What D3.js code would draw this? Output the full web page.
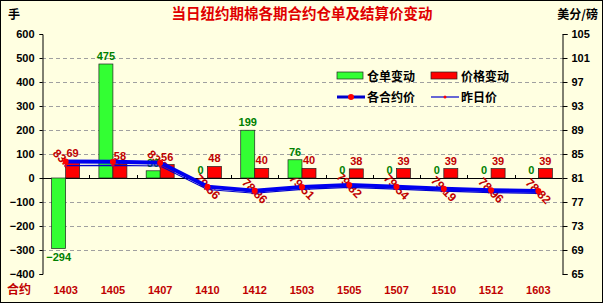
<!DOCTYPE html>
<html>
<head>
<meta charset="utf-8">
<script src="https://cdn.jsdelivr.net/npm/d3@7"></script>
<style>
  body { margin: 0; background: #fff; }
  svg { display: block; }
  text { font-family: "Liberation Sans", "Noto Sans CJK SC", sans-serif; }
</style>
</head>
<body>
<script>
var contracts = ["1403","1405","1407","1410","1412","1503","1505","1507","1510","1512","1603"];
var warrantChange = [-294, 475, 30, 0, 199, 76, 0, 0, 0, 0, 0];
var priceChange = [69, 58, 56, 48, 40, 40, 38, 39, 39, 39, 39];
var settlePrice = [83.74, 83.70, 83.56, 79.56, 78.86, 79.51, 79.82, 79.54, 79.19, 78.96, 78.82];
var leftTicks = [600, 500, 400, 300, 200, 100, 0, -100, -200, -300, -400];
var rightTicks = [105, 101, 97, 93, 89, 85, 81, 77, 73, 69, 65];

var width = 603, height = 303;
var margin = {left: 42, right: 41, top: 34, bottom: 29};
var cjk = '"Noto Sans CJK SC", sans-serif';

var svg = d3.select("body").append("svg").attr("width", width).attr("height", height);
svg.append("rect").attr("x", 0.5).attr("y", 0.5).attr("width", width - 1).attr("height", height - 1)
    .attr("fill", "#ffffe1").attr("stroke", "#000");

var x = d3.scaleBand().domain(contracts).range([margin.left, width - margin.right]);
var y = d3.scaleLinear().domain([-400, 600]).range([height - margin.bottom, margin.top]);
var y2 = d3.scaleLinear().domain([65, 105]).range([height - margin.bottom, margin.top]);

var data = contracts.map(function(c, i){
    return {c: c, w: warrantChange[i], p: priceChange[i], s: settlePrice[i], prev: +(settlePrice[i] - priceChange[i] / 100).toFixed(2)};
});

// grid
svg.append("g").selectAll("line").data(leftTicks.filter(function(d){ return d != 0 && d != 600 && d != -400; }))
  .enter().append("line")
    .attr("x1", margin.left).attr("x2", width - margin.right)
    .attr("y1", function(d){ return Math.round(y(d)) + 0.5; })
    .attr("y2", function(d){ return Math.round(y(d)) + 0.5; })
    .attr("stroke", "#a0a0a0").attr("stroke-dasharray", "4,3");

// axes
var axL = svg.append("g").attr("transform", "translate(" + (margin.left + 0.5) + ",0)")
    .call(d3.axisLeft(y).tickValues(leftTicks).tickSize(3).tickFormat(d3.format("d")));
var axR = svg.append("g").attr("transform", "translate(" + (width - margin.right + 0.5) + ",0)")
    .call(d3.axisRight(y2).tickValues(rightTicks).tickSize(5).tickPadding(4));
[axL, axR].forEach(function(a){
    a.select(".domain").attr("stroke", "#000");
    a.selectAll("line").attr("stroke", "#000");
    a.selectAll("text").attr("fill", "#000").style("font-size", "11px").style("font-weight", "bold");
});
axL.selectAll("text").attr("x", -8);

svg.append("line").attr("x1", margin.left).attr("x2", width - margin.right)
    .attr("y1", Math.round(y(0)) + 0.5).attr("y2", Math.round(y(0)) + 0.5).attr("stroke", "#000");
svg.append("g").selectAll("line").data(contracts.slice(1)).enter().append("line")
    .attr("x1", function(d){ return Math.round(x(d)) + 0.5; })
    .attr("x2", function(d){ return Math.round(x(d)) + 0.5; })
    .attr("y1", Math.round(y(0))).attr("y2", Math.round(y(0)) - 3).attr("stroke", "#000");

// line labels (rotated)
var cx = function(d){ return x(d.c) + x.bandwidth() / 2; };
svg.append("g").selectAll("text").data(data).enter().append("text")
    .attr("transform", function(d){ return "translate(" + cx(d) + "," + y2(d.s) + ") rotate(45)"; })
    .attr("text-anchor", "middle").attr("dy", "0.35em")
    .attr("fill", "#c00000").style("font-size", "12px").style("font-weight", "bold")
    .text(function(d){ return d.s.toFixed(2); });

// bars
var bw = 14;
var bars = svg.append("g");
bars.selectAll(".gb").data(data).enter().append("rect").attr("class", "gb")
    .attr("x", function(d){ return cx(d) - bw; }).attr("width", bw)
    .attr("y", function(d){ return y(Math.max(0, d.w)); })
    .attr("height", function(d){ return Math.abs(y(d.w) - y(0)); })
    .attr("fill", "#33ff33").attr("stroke", "#222").attr("stroke-width", 0.7);
bars.selectAll(".rb").data(data).enter().append("rect").attr("class", "rb")
    .attr("x", function(d){ return cx(d); }).attr("width", bw)
    .attr("y", function(d){ return y(d.p); })
    .attr("height", function(d){ return y(0) - y(d.p); })
    .attr("fill", "#ff0000").attr("stroke", "#222").attr("stroke-width", 0.7);

// bar labels
svg.append("g").selectAll("text").data(data).enter().append("text")
    .attr("x", function(d){ return cx(d) - bw / 2; })
    .attr("y", function(d){ return d.w < 0 ? y(d.w) + 12 : y(d.w) - 4; })
    .attr("text-anchor", "middle").attr("fill", "#008000")
    .style("font-size", "11px").style("font-weight", "bold")
    .text(function(d){ return d.w < 0 ? "\u2212" + Math.abs(d.w) : d.w; });
svg.append("g").selectAll("text").data(data).enter().append("text")
    .attr("x", function(d){ return cx(d) + bw / 2; })
    .attr("y", function(d){ return y(d.p) - 4; })
    .attr("text-anchor", "middle").attr("fill", "#c00000")
    .style("font-size", "11px").style("font-weight", "bold")
    .text(function(d){ return d.p; });

// lines
var lineNow = d3.line().x(cx).y(function(d){ return y2(d.s); });
var linePrev = d3.line().x(cx).y(function(d){ return y2(d.prev); });
svg.append("path").attr("d", linePrev(data)).attr("fill", "none").attr("stroke", "#0000cc").attr("stroke-width", 1.2);
svg.append("path").attr("d", lineNow(data)).attr("fill", "none").attr("stroke", "#0000ee").attr("stroke-width", 4);
svg.append("g").selectAll("circle").data(data).enter().append("circle")
    .attr("cx", cx).attr("cy", function(d){ return y2(d.prev); }).attr("r", 1.5).attr("fill", "#cc0033");
svg.append("g").selectAll("circle").data(data).enter().append("circle")
    .attr("cx", cx).attr("cy", function(d){ return y2(d.s); }).attr("r", 3).attr("fill", "#ff0000");

// category labels
svg.append("g").selectAll("text").data(contracts).enter().append("text")
    .attr("x", function(d){ return x(d) + x.bandwidth() / 2; }).attr("y", 294)
    .attr("text-anchor", "middle").attr("fill", "#c00000")
    .style("font-size", "11px").style("font-weight", "bold")
    .text(function(d){ return d; });
svg.append("text").attr("x", 7).attr("y", 294).attr("fill", "#c00000")
    .style("font-family", cjk).style("font-size", "12px").style("font-weight", "bold").text("合约");

// titles
svg.append("text").attr("x", 302).attr("y", 19).attr("text-anchor", "middle").attr("fill", "#e00000")
    .style("font-family", cjk).style("font-size", "14.5px").style("font-weight", "bold")
    .text("当日纽约期棉各期合约仓单及结算价变动");
svg.append("text").attr("x", 8).attr("y", 19).attr("fill", "#000")
    .style("font-family", cjk).style("font-size", "12px").style("font-weight", "bold").text("手");
svg.append("text").attr("x", 598).attr("y", 19).attr("text-anchor", "end").attr("fill", "#000")
    .style("font-family", cjk).style("font-size", "12px").style("font-weight", "bold").text("美分/磅");

// legend
var leg = svg.append("g");
var legItems = [
    {name: "仓单变动", type: "rect", color: "#33ff33", x: 337, y: 76},
    {name: "价格变动", type: "rect", color: "#ff0000", x: 431, y: 76},
    {name: "各合约价", type: "thick", x: 337, y: 97},
    {name: "昨日价", type: "thin", x: 431, y: 97}
];
legItems.forEach(function(it){
    if (it.type == "rect") {
        leg.append("rect").attr("x", it.x).attr("y", it.y - 4).attr("width", 26).attr("height", 7)
            .attr("fill", it.color).attr("stroke", "#222").attr("stroke-width", 0.7);
    } else {
        leg.append("line").attr("x1", it.x).attr("x2", it.x + 28).attr("y1", it.y).attr("y2", it.y)
            .attr("stroke", "#0000cc").attr("stroke-width", it.type == "thick" ? 3 : 1.2);
        leg.append("circle").attr("cx", it.x + 14).attr("cy", it.y).attr("r", it.type == "thick" ? 3 : 1.5)
            .attr("fill", "#ff0000");
    }
    leg.append("text").attr("x", it.x + 30).attr("y", it.y + 5).attr("fill", "#000")
        .style("font-family", cjk).style("font-size", "12px").style("font-weight", "bold").text(it.name);
});
</script>
</body>
</html>
